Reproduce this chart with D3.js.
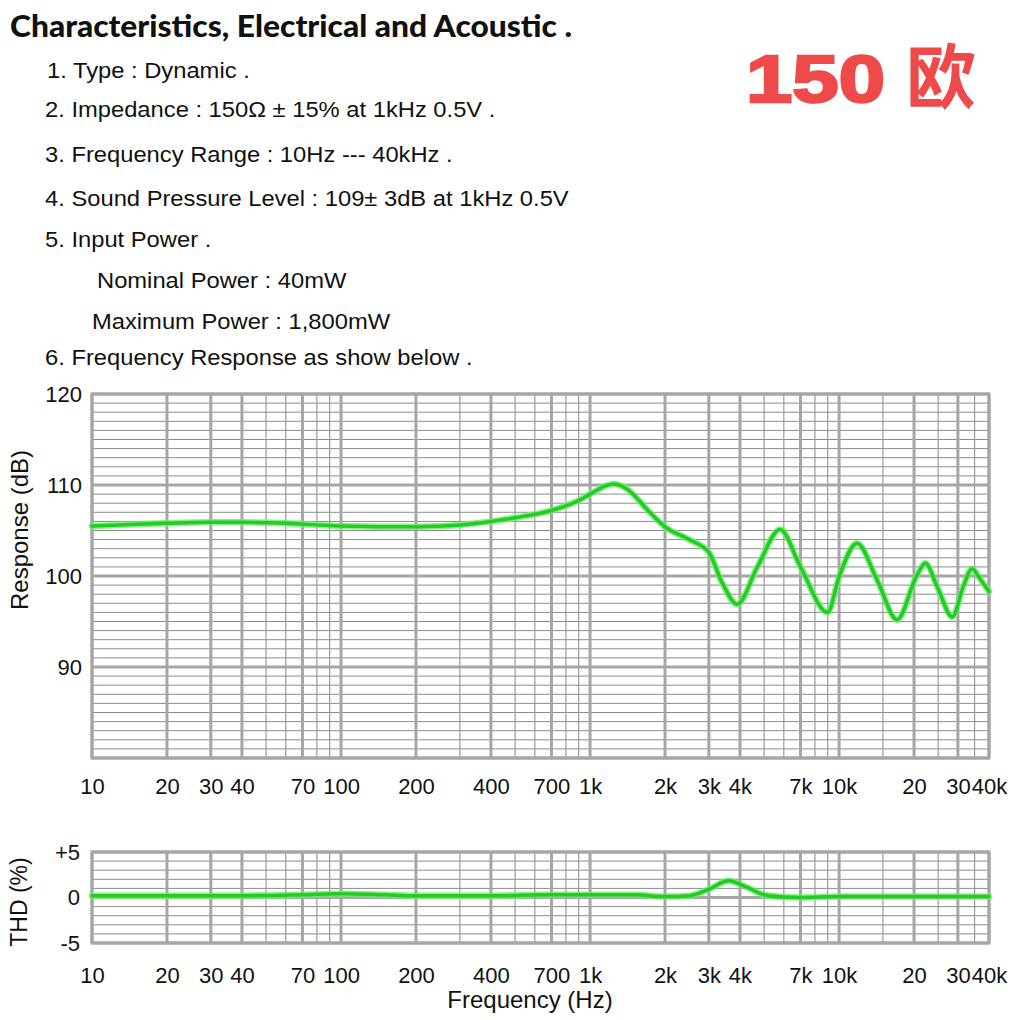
<!DOCTYPE html>
<html>
<head>
<meta charset="utf-8">
<script src="https://cdn.jsdelivr.net/npm/d3@7"></script>
<style>
  body { margin: 0; background: #fff; }
  text { font-family: "Liberation Sans", Arial, sans-serif; fill: #111; }
</style>
</head>
<body>
<div id="chart"></div>
<script>
//// data
var titleText = "Characteristics, Electrical and Acoustic .";
var badgeNumber = "150";
var badgeUnit = "欧";
var specLines = [
  "1. Type : Dynamic .",
  "2. Impedance : 150\u03A9 \u00B1 15% at 1kHz 0.5V .",
  "3. Frequency Range : 10Hz --- 40kHz .",
  "4. Sound Pressure Level : 109\u00B1 3dB at 1kHz 0.5V",
  "5. Input Power .",
  "Nominal Power : 40mW",
  "Maximum Power : 1,800mW",
  "6. Frequency Response as show below ."
];

var respFreq = [10, 15, 20, 30, 40, 60, 70, 100, 200, 300, 400, 500, 700, 900, 1000, 1240, 1400,
  1750, 2000, 2500, 3000, 3400, 3900, 4700, 5800, 7000, 9000, 10000, 11800, 14200, 17100,
  20400, 22200, 24800, 28500, 31500, 34200, 36800, 40000];
var respDb = [105.5, 105.7, 105.8, 105.9, 105.9, 105.8, 105.7, 105.5, 105.4, 105.6, 106.0, 106.4, 107.2, 108.3, 109.0, 110.1, 109.6,
  106.9, 105.4, 104.0, 102.6, 99.2, 96.9, 101.0, 105.1, 101.0, 96.0, 99.9, 103.6, 99.6, 95.2,
  99.9, 101.4, 98.8, 95.5, 98.8, 100.8, 99.7, 98.3];

var thdFreq = [10, 20, 40, 70, 100, 150, 200, 400, 700, 1000, 1500, 2000, 2500, 3000, 3600, 4200, 5000, 6000, 7000, 10000, 20000, 40000];
var thdPct = [0.2, 0.2, 0.2, 0.3, 0.4, 0.3, 0.2, 0.2, 0.3, 0.3, 0.3, 0.1, 0.2, 0.9, 1.85, 1.2, 0.3, 0.05, 0.0, 0.1, 0.1, 0.1];

var tickFreqs = [10, 20, 30, 40, 70, 100, 200, 400, 700, 1000, 2000, 3000, 4000, 7000, 10000, 20000, 30000, 40000];
var tickLabels = ["10", "20", "30", "40", "70", "100", "200", "400", "700", "1k", "2k", "3k", "4k", "7k", "10k", "20", "30", "40k"];
var minorFreqs = [50, 60, 80, 90, 300, 500, 600, 800, 900, 5000, 6000, 8000, 9000, 15000, 25000, 35000];

var respTicks = [90, 100, 110, 120];
var thdTicks = [-5, 0, 5];
var thdTickLabels = ["-5", "0", "+5"];

//// layout
var W = 1020, H = 1020;
var plotLeft = 92, plotRight = 989;

var svg = d3.select("#chart").append("svg")
  .attr("width", W).attr("height", H)
  .style("background", "#fff");

// header text
svg.append("text")
  .attr("x", 10).attr("y", 37)
  .style("font-family", "Lato, 'Open Sans', sans-serif")
  .style("font-weight", 900)
  .style("font-size", "31px")
  .attr("textLength", 562)
  .attr("lengthAdjust", "spacingAndGlyphs")
  .text(titleText);

// spec lines are a bit stretched sideways in the original
var specPos = [[47, 70], [45, 109], [45, 154], [45, 198], [45, 239], [97, 280], [92, 321], [45, 357]];
svg.selectAll(".spec")
  .data(specLines)
  .enter().append("text")
  .attr("class", "spec")
  .attr("transform", (d, i) => "translate(" + specPos[i][0] + "," + specPos[i][1] + ") scale(1.08,1)")
  .attr("dy", "0.35em")
  .style("font-size", "22px")
  .text(d => d);

svg.append("text")
  .attr("x", 746).attr("y", 102)
  .attr("textLength", 139)
  .attr("lengthAdjust", "spacingAndGlyphs")
  .style("fill", "#ef4a4a")
  .style("stroke", "#ef4a4a").style("stroke-width", 2.5)
  .style("font-weight", 700)
  .style("font-size", "66px")
  .text(badgeNumber);
svg.append("text")
  .attr("x", 906).attr("y", 103)
  .style("fill", "#ef4a4a")
  .style("font-family", "'Noto Sans CJK SC', sans-serif")
  .style("font-weight", 700)
  .style("font-size", "70px")
  .text(badgeUnit);

//// scales
var x = d3.scaleLog().domain([10, 40000]).range([plotLeft, plotRight]);
var yResp = d3.scaleLinear().domain([80, 120]).range([758, 394]);
var yThd = d3.scaleLinear().domain([-5, 5]).range([943, 852]);

function drawGrid(y, minorStep, majorVals) {
  var g = svg.append("g");
  var lo = y.domain()[0], hi = y.domain()[1];
  var minorY = d3.range(lo, hi + 0.001, minorStep).filter(v => majorVals.indexOf(v) < 0);
  g.selectAll(".hmin").data(minorY).enter().append("line")
    .attr("x1", plotLeft).attr("x2", plotRight)
    .attr("y1", d => y(d)).attr("y2", d => y(d))
    .attr("stroke", "#8c8c8c").attr("stroke-width", 1);
  g.selectAll(".vmin").data(minorFreqs).enter().append("line")
    .attr("x1", d => x(d)).attr("x2", d => x(d))
    .attr("y1", y(hi)).attr("y2", y(lo))
    .attr("stroke", "#9a9a9a").attr("stroke-width", 1.2);
  g.selectAll(".vmaj").data(tickFreqs).enter().append("line")
    .attr("x1", d => x(d)).attr("x2", d => x(d))
    .attr("y1", y(hi)).attr("y2", y(lo))
    .attr("stroke", "#a6a6a6").attr("stroke-width", 3);
  g.selectAll(".hmaj").data(majorVals).enter().append("line")
    .attr("x1", plotLeft).attr("x2", plotRight)
    .attr("y1", d => y(d)).attr("y2", d => y(d))
    .attr("stroke", "#a6a6a6").attr("stroke-width", 3);
  g.append("rect")
    .attr("x", plotLeft).attr("y", y(hi))
    .attr("width", plotRight - plotLeft).attr("height", y(lo) - y(hi))
    .attr("fill", "none").attr("stroke", "#a6a6a6").attr("stroke-width", 3);
}

drawGrid(yResp, 1, [80, 90, 100, 110, 120]);
drawGrid(yThd, 1, [-5, 0, 5]);

//// curves
function drawCurve(freqs, vals, y) {
  var pts = freqs.map((f, i) => [f, vals[i]]);
  var line = d3.line()
    .x(d => x(d[0])).y(d => y(d[1]))
    .curve(d3.curveMonotoneX);
  svg.append("path").datum(pts)
    .attr("d", line).attr("fill", "none")
    .attr("stroke", "#6fea6f").attr("stroke-width", 6.5)
    .attr("stroke-linecap", "round").attr("stroke-opacity", 0.8);
  svg.append("path").datum(pts)
    .attr("d", line).attr("fill", "none")
    .attr("stroke", "#22cc22").attr("stroke-width", 3.5)
    .attr("stroke-linecap", "round");
}
drawCurve(respFreq, respDb, yResp);
drawCurve(thdFreq, thdPct, yThd);

//// axes
function xAxis(yPos) {
  var ax = svg.append("g")
    .attr("transform", "translate(0," + yPos + ")")
    .call(d3.axisBottom(x).tickValues(tickFreqs)
      .tickFormat((d, i) => tickLabels[i]).tickSize(0).tickPadding(0));
  ax.select(".domain").remove();
  ax.selectAll("text")
    .attr("dy", "0.35em")
    .style("font-size", "22px").style("fill", "#111")
    .style("font-family", "'Liberation Sans', Arial, sans-serif");
}
xAxis(786);
xAxis(975);

var ya = svg.append("g")
  .attr("transform", "translate(" + plotLeft + ",0)")
  .call(d3.axisLeft(yResp).tickValues(respTicks).tickSize(0).tickPadding(10));
ya.select(".domain").remove();
ya.selectAll("text").style("font-size", "22px").style("fill", "#111")
  .style("font-family", "'Liberation Sans', Arial, sans-serif");

var yb = svg.append("g")
  .attr("transform", "translate(" + plotLeft + ",0)")
  .call(d3.axisLeft(yThd).tickValues(thdTicks)
    .tickFormat((d, i) => thdTickLabels[i]).tickSize(0).tickPadding(12));
yb.select(".domain").remove();
yb.selectAll("text").style("font-size", "22px").style("fill", "#111")
  .style("font-family", "'Liberation Sans', Arial, sans-serif");

svg.append("text")
  .attr("transform", "translate(20,530) rotate(-90)")
  .attr("text-anchor", "middle").attr("dy", "0.35em")
  .style("font-size", "24px")
  .text("Response (dB)");

svg.append("text")
  .attr("transform", "translate(19,902) rotate(-90)")
  .attr("text-anchor", "middle").attr("dy", "0.35em")
  .style("font-size", "23px")
  .text("THD (%)");

svg.append("text")
  .attr("x", 530).attr("y", 1000)
  .attr("text-anchor", "middle").attr("dy", "0.35em")
  .style("font-size", "24px")
  .text("Frequency (Hz)");
</script>
</body>
</html>
